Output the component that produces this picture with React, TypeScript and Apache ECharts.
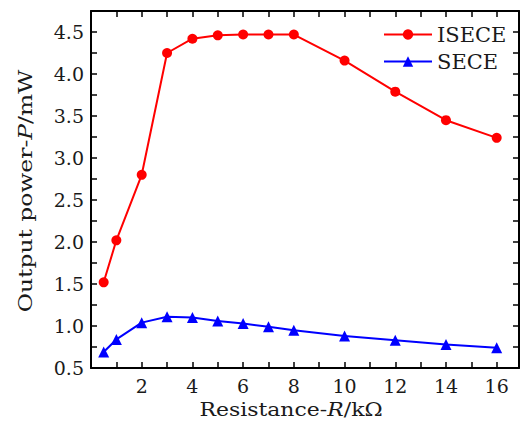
import React, { useEffect, useRef } from "react";
import * as echarts from "echarts";

const resistance = [0.5, 1, 2, 3, 4, 5, 6, 7, 8, 10, 12, 14, 16];
const isece = [1.52, 2.02, 2.8, 4.25, 4.42, 4.46, 4.47, 4.47, 4.47, 4.16, 3.79, 3.45, 3.24];
const sece = [0.69, 0.84, 1.04, 1.11, 1.1, 1.06, 1.03, 0.99, 0.95, 0.88, 0.83, 0.78, 0.74];
const seriesNames = ["ISECE", "SECE"];
const xLabelValues = [2, 4, 6, 8, 10, 12, 14, 16];
const yLabelValues = [0.5, 1.0, 1.5, 2.0, 2.5, 3.0, 3.5, 4.0, 4.5];

const FONT = "DejaVu Serif";
const INK = "#1a1a1a";

export default function App() {
  const ref = useRef<HTMLDivElement>(null);
  useEffect(() => {
    if (!ref.current) return;
    const chart = echarts.init(ref.current, undefined, { renderer: "svg" });
    const axisCommon = {
      type: "value" as const,
      axisLine: { show: true, onZero: false, lineStyle: { color: "#000", width: 2 } },
      axisTick: { show: true, inside: true, length: 6, lineStyle: { color: "#000", width: 1.5 } },
      splitLine: { show: false },
    };
    const xFmt = (v: number) => (xLabelValues.some((t) => Math.abs(t - v) < 1e-6) ? String(v) : "");
    const yFmt = (v: number) =>
      yLabelValues.some((t) => Math.abs(t - v) < 1e-6) ? v.toFixed(1) : "";
    chart.setOption({
      animation: false,
      grid: { left: 91, right: 5, top: 11, bottom: 56 },
      xAxis: [
        {
          ...axisCommon,
          position: "bottom",
          min: 0,
          max: 16.88,
          interval: 1,
          axisLabel: { formatter: xFmt, fontFamily: FONT, fontSize: 19, color: INK, margin: 8 },
        },
        {
          ...axisCommon,
          position: "top",
          min: 0,
          max: 16.88,
          interval: 1,
          axisLabel: { show: false },
        },
      ],
      yAxis: [
        {
          ...axisCommon,
          position: "left",
          min: 0.5,
          max: 4.75,
          interval: 0.25,
          axisLabel: { formatter: yFmt, fontFamily: FONT, fontSize: 19, color: INK, margin: 7 },
        },
        {
          ...axisCommon,
          position: "right",
          min: 0.5,
          max: 4.75,
          interval: 0.25,
          axisLabel: { show: false },
        },
      ],
      legend: {
        orient: "vertical",
        left: 378,
        top: 18,
        itemWidth: 48,
        itemHeight: 13,
        itemGap: 4,
        data: seriesNames,
        textStyle: { fontFamily: FONT, fontSize: 21, color: INK, lineHeight: 23 },
      },
      series: [
        {
          name: seriesNames[0],
          type: "line",
          data: resistance.map((r, i) => [r, isece[i]]),
          symbol: "circle",
          symbolSize: 10,
          lineStyle: { color: "#ff0000", width: 2 },
          itemStyle: { color: "#ff0000" },
        },
        {
          name: seriesNames[1],
          type: "line",
          data: resistance.map((r, i) => [r, sece[i]]),
          symbol: "triangle",
          symbolSize: 11,
          lineStyle: { color: "#0000ff", width: 2 },
          itemStyle: { color: "#0000ff" },
        },
      ],
      graphic: [
        {
          type: "text",
          x: 291,
          y: 410,
          scaleX: 1.22,
          style: {
            text: "{n|Resistance-}{i|R}{n|/kΩ}",
            rich: {
              n: { fontFamily: FONT, fontSize: 18, fill: INK },
              i: { fontFamily: FONT, fontSize: 18, fontStyle: "italic", fill: INK },
            },
            textAlign: "center",
            textVerticalAlign: "middle",
          },
        },
        {
          type: "text",
          x: 26,
          y: 191,
          rotation: Math.PI / 2,
          scaleX: 1.3,
          style: {
            text: "{n|Output power-}{i|P}{n|/mW}",
            rich: {
              n: { fontFamily: FONT, fontSize: 18, fill: INK },
              i: { fontFamily: FONT, fontSize: 18, fontStyle: "italic", fill: INK },
            },
            textAlign: "center",
            textVerticalAlign: "middle",
          },
        },
      ],
    });
    return () => chart.dispose();
  }, []);
  return <div ref={ref} style={{ width: 524, height: 424, position: "absolute", left: 0, top: 0 }} />;
}
